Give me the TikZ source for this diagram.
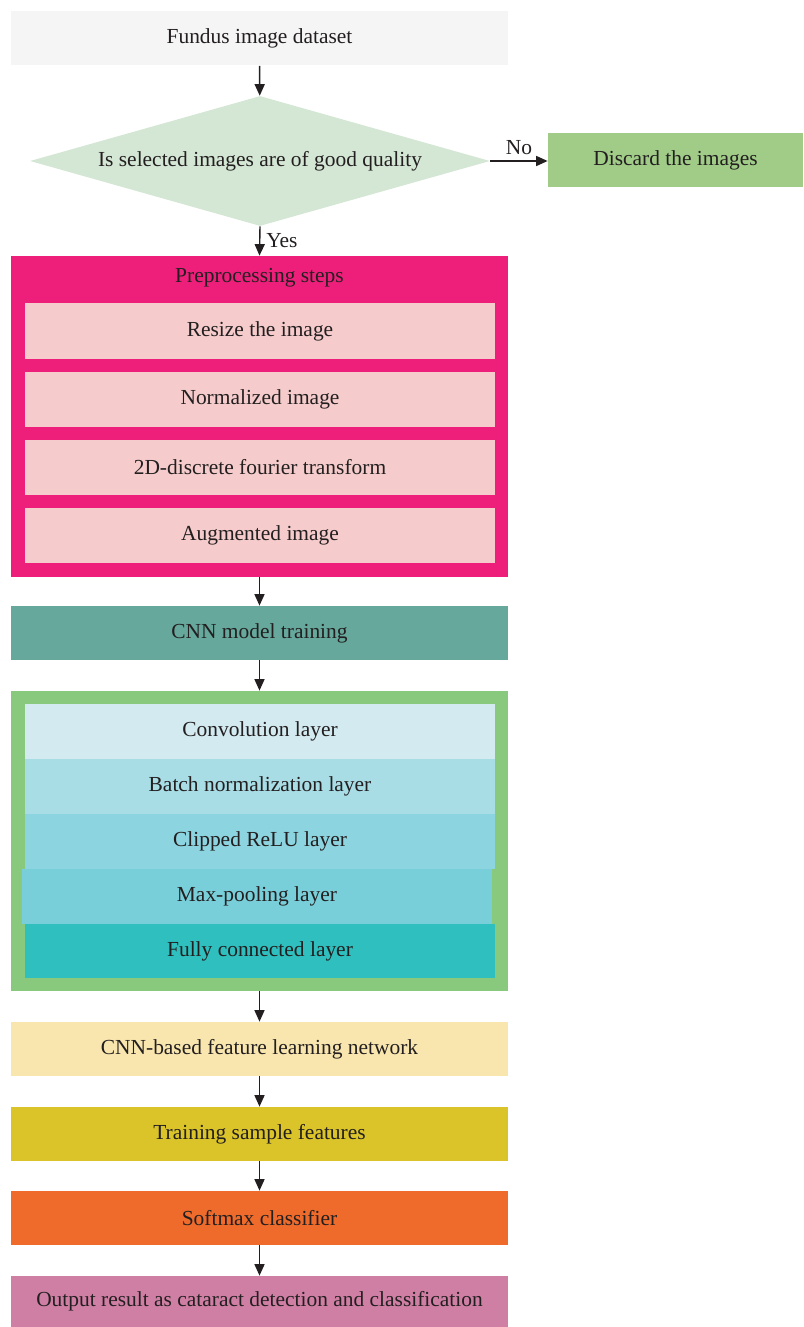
\documentclass[tikz,border=0pt]{standalone}
\usepackage{fontspec}
\setmainfont{Liberation Serif}
\usetikzlibrary{arrows.meta}
\usetikzlibrary{shapes.geometric}

\begin{document}
\begin{tikzpicture}[x=0.2mm,y=-0.2mm,
    box/.style={
      draw=none,
      text=txt,
      font=\fontsize{12.2}{14}\selectfont,
      minimum width=9.94cm,
      minimum height=1.08cm,
      inner sep=0pt
    },
    lay/.style={box, minimum width=9.4cm, minimum height=1.1cm},
    arr/.style={-{Triangle[length=2.3mm,width=2mm]},thick,txt}]

\definecolor{txt}{RGB}{35,31,32}
\definecolor{lgray}{RGB}{245,245,245}
\definecolor{dmint}{RGB}{212,230,212}
\definecolor{mgreen}{RGB}{160,204,136}
\definecolor{hpink}{RGB}{238,31,123}
\definecolor{lpink}{RGB}{245,204,203}
\definecolor{teal}{RGB}{102,168,156}
\definecolor{fgreen}{RGB}{136,201,126}
\definecolor{cyana}{RGB}{210,234,240}
\definecolor{cyanb}{RGB}{168,221,230}
\definecolor{cyanc}{RGB}{140,212,223}
\definecolor{cyand}{RGB}{120,207,218}
\definecolor{cyane}{RGB}{46,191,190}
\definecolor{lyellow}{RGB}{248,230,174}
\definecolor{olive}{RGB}{219,196,42}
\definecolor{orng}{RGB}{238,107,44}
\definecolor{mauve}{RGB}{207,127,164}

\useasboundingbox (0,0) rectangle (803,1327);

\node[box,fill=lgray] (fd) at (259.5,38.5) {Fundus image dataset};
\node[box,diamond,fill=dmint,aspect=3.5,minimum width=9.2cm,minimum height=2.6cm] (qc) at (260,161) {Is selected images are of good quality};
\node[box,fill=mgreen,minimum width=5.1cm] (dc) at (675.5,160) {Discard the images};

% preprocessing block
\node[box,fill=hpink,minimum height=6.42cm] (pp) at (259.5,416.5) {};
\node[box,minimum height=0.6cm] (ppt) at (259.5,278) {Preprocessing steps};
\node[lay,fill=lpink] (rs) at (260,331) {Resize the image};
\node[lay,fill=lpink] (nm) at (260,399) {Normalized image};
\node[lay,fill=lpink] (ft) at (260,467) {2D-discrete fourier transform};
\node[lay,fill=lpink] (ag) at (260,535) {Augmented image};

\node[box,fill=teal] (tr) at (259.5,633) {CNN model training};

% CNN layers
\node[box,fill=fgreen,minimum height=6cm] (cn) at (259.5,841) {};
\node[lay,fill=cyana] (cv) at (260,731.5) {Convolution layer};
\node[lay,fill=cyanb] (bn) at (260,786.5) {Batch normalization layer};
\node[lay,fill=cyanc] (cr) at (260,841.5) {Clipped ReLU layer};
\node[lay,fill=cyand] (mp) at (257,896.5) {Max-pooling layer};
\node[lay,fill=cyane,minimum height=1.08cm] (fc) at (260,951) {Fully connected layer};

\node[box,fill=lyellow] (fl) at (259.5,1049) {CNN-based feature learning network};
\node[box,fill=olive] (ts) at (259.5,1134) {Training sample features};
\node[box,fill=orng] (sm) at (259.5,1218) {Softmax classifier};
\node[box,fill=mauve,minimum height=1.02cm] (out) at (259.5,1301.5) {Output result as cataract detection and classification};

\draw[arr] (fd) -- (qc);
\draw[arr] (qc.east) -- (qc.east -| dc.west) node[midway,above,text=txt,font=\fontsize{12.2}{14}\selectfont] {No};
\draw[arr] (qc.south) -- (pp.north) node[midway,right,text=txt,font=\fontsize{12.2}{14}\selectfont] {Yes};
\draw[arr] (pp) -- (tr);
\draw[arr] (tr) -- (cn);
\draw[arr] (cn) -- (fl);
\draw[arr] (fl) -- (ts);
\draw[arr] (ts) -- (sm);
\draw[arr] (sm) -- (out);

\end{tikzpicture}
\end{document}
